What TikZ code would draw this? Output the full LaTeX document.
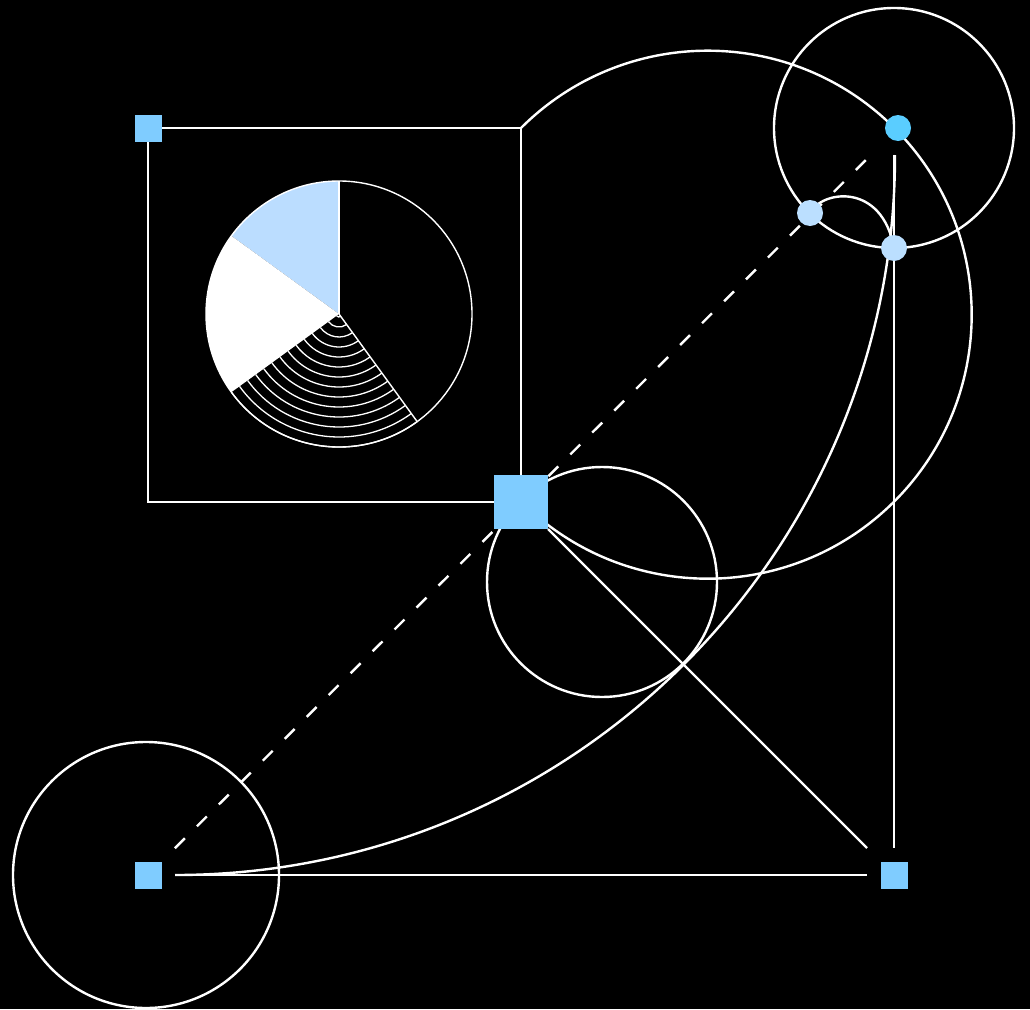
\documentclass[tikz,border=0pt]{standalone}
\usepackage{xcolor}
\usepackage{tikz}
\usetikzlibrary{positioning,calc}
\definecolor{sqblue}{RGB}{127,204,255}
\definecolor{dotcyan}{RGB}{90,205,255}
\definecolor{dotpale}{RGB}{187,223,255}
\definecolor{piepale}{RGB}{187,221,255}
\pgfdeclarelayer{bg}
\pgfdeclarelayer{edges}
\pgfsetlayers{bg,edges,main}
\tikzset{
cornersq/.style={
fill=sqblue,
minimum size=27pt,
inner sep=0pt
},
hubsq/.style={
fill=sqblue,
minimum size=54pt,
inner sep=0pt
},
bigdot/.style={
circle,
fill=dotcyan,
minimum size=26pt,
inner sep=0pt
},
smalldot/.style={
circle,
fill=dotpale,
minimum size=26pt,
inner sep=0pt
},
wire/.style={
draw=white,
line width=2.4pt
},
dashwire/.style={
draw=white,
line width=2.4pt,
dash pattern=on 14pt off 17pt
},
pieline/.style={
draw=white,
line width=1.4pt
},
hatchline/.style={
draw=white,
line width=1.3pt
}
}

\begin{document}
\begin{tikzpicture}[x=1pt,y=-1pt]
\begin{pgfonlayer}{bg}
\fill[black](0,0) rectangle (1030,1009);
\end{pgfonlayer}
\useasboundingbox (0,0) rectangle (1030,1009);

% nodes
\node[cornersq](tl) at (148,128){};
\node[cornersq](bl) at (148,875){};
\node[cornersq](br) at (894,875){};
\node[hubsq](hub) at (521,502){};
\node[bigdot](top) at (898,128){};
\node[smalldot](da) at (810,213){};
\node[smalldot](db) at (894,248){};
\coordinate(tr) at (894,128);
\coordinate(rc) at (521,128);
\coordinate(mid) at (602,582);
\coordinate(lc) at (146,875);
\coordinate(pc) at (339,314);

\begin{pgfonlayer}{edges}
% circles
\draw[wire](tr) circle[radius=120];
\draw[wire](mid) circle[radius=115];
\draw[wire](lc) circle[radius=133];

% frame and arcs
\draw[wire](tl.center) rectangle (hub.center);
\draw[wire](rc) arc[start angle=225,end angle=495,radius=264];
\draw[wire](bl.center) ++(27,0) arc[start angle=90,end angle=0,radius=720];
\draw[wire](da.center) .. controls (822,190) and (882,182) .. (db.center);

% straight links
\draw[dashwire,shorten <=38pt,shorten >=38pt](bl.center)--(top.center);
\draw[wire,shorten <=27pt,shorten >=27pt](bl.center)--(br.center);
\draw[wire,shorten <=27pt,shorten >=27pt](tr)--(br.center);
\draw[wire,shorten <=38.2pt,shorten >=38.2pt](hub.center)--(br.center);

% pie
\fill[piepale](pc)--++(270:133) arc[start angle=270,end angle=216,radius=133]--cycle;
\fill[white](pc)--++(216:133) arc[start angle=216,end angle=144,radius=133]--cycle;
\foreach \r in {3,13,...,133}
\draw[hatchline](pc) ++(144:\r) arc[start angle=144,end angle=54,radius=\r];
\draw[pieline](pc) circle[radius=133];
\foreach \a in {270,54}
\draw[pieline](pc)--++(\a:133);
\end{pgfonlayer}
\end{tikzpicture}
\end{document}
